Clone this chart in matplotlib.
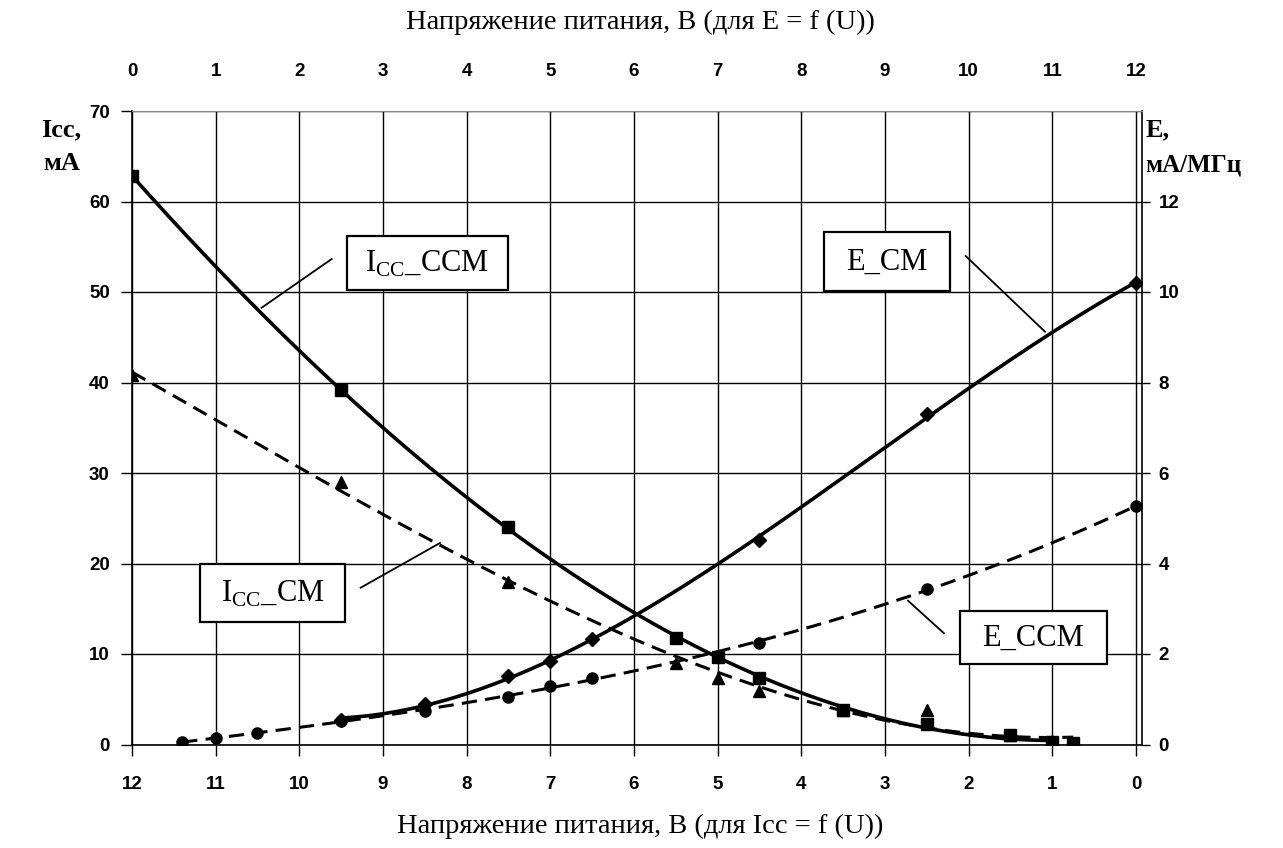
import numpy as np
import matplotlib
matplotlib.use("Agg")
import matplotlib.pyplot as plt
from matplotlib.patches import Rectangle
from matplotlib.lines import Line2D

plt.rcParams['mathtext.fontset'] = 'custom'
plt.rcParams['mathtext.rm'] = 'Liberation Serif'

W, H = 1283, 848

# Icc = f(U), нижняя ось (В)
u_icc = [12, 9.5, 7.5, 5.5, 5, 4.5, 3.5, 2.5, 1.5, 1, 0.75]
icc_ccm = [62.8, 39.2, 24.0, 11.8, 9.7, 7.3, 3.8, 2.3, 1.1, 0.3, 0.15]
icc_cm = [40.8, 29.0, 18.0, 9.0, 7.4, 5.9, 3.8, 3.8, 1.1, 0.4, 0.2]

# E = f(U), верхняя ось (В)
u_e_ccm = [0.6, 1, 1.5, 2.5, 3.5, 4.5, 5, 5.5, 7.5, 9.5, 12]
e_ccm = [0.05, 0.15, 0.25, 0.53, 0.73, 1.06, 1.29, 1.47, 2.24, 3.43, 5.27]
u_e_cm = [2.5, 3.5, 4.5, 5, 5.5, 7.5, 9.5, 12]
e_cm = [0.55, 0.9, 1.51, 1.84, 2.33, 4.51, 7.3, 10.2]

u_ticks = list(range(0, 13))
icc_ticks = list(range(0, 71, 10))
e_ticks = list(range(0, 13, 2))


def px(x, y):
    return x / W, 1 - y / H


def trend(x, y, deg, x0, x1):
    c = np.polyfit(x, y, deg)
    xx = np.linspace(x0, x1, 200)
    return xx, np.polyval(c, xx)


fig = plt.figure(figsize=(W / 100, H / 100), dpi=100)
rect = [132 / W, 1 - 744.5 / H, (1142 - 132) / W, (744.5 - 111) / H]

tick_font = dict(family='Liberation Sans', weight='bold', size=13.5)
serif = 'Liberation Serif'

# основная ось: Icc и нижняя шкала напряжения
ax = fig.add_axes(rect)
ax.set_xlim(12, -0.072)
ax.set_ylim(0, 70)
ax.set_xticks(u_ticks)
ax.set_yticks(icc_ticks)
ax.grid(True, color='black', lw=1.0)
ax.set_axisbelow(True)
ax.tick_params(axis='x', direction='out', length=8, width=1, pad=15)
ax.tick_params(axis='y', direction='out', length=8, width=1, pad=8)
for lab in ax.get_xticklabels() + ax.get_yticklabels():
    lab.set_fontproperties(tick_font)
ax.spines['top'].set_color('#888888')
for s in ['left', 'bottom', 'right']:
    ax.spines[s].set_linewidth(1.2)

dash = (5, 2.7)
x, y = trend(u_icc, icc_ccm, 3, 12, 1.0)
ax.plot(x, y, color='black', lw=2.6)
x, y = trend(u_icc, icc_cm, 3, 12, 0.75)
ax.plot(x, y, color='black', lw=2.2, dashes=dash)
ax.plot(u_icc, icc_ccm, 's', color='black', ms=8, zorder=3)
ax.plot(u_icc, icc_cm, '^', color='black', ms=9, zorder=3)

# вторая ось: E и верхняя шкала напряжения
ax2 = fig.add_axes(rect)
ax2.patch.set_visible(False)
for s in ax2.spines.values():
    s.set_visible(False)
ax2.set_xlim(0, 12.072)
ax2.set_ylim(0, 14)
ax2.xaxis.tick_top()
ax2.yaxis.tick_right()
ax2.set_xticks(u_ticks)
ax2.set_yticks(e_ticks)
ax2.tick_params(axis='x', length=0, pad=22)
ax2.tick_params(axis='y', direction='out', length=6, width=1, pad=6)
for lab in ax2.get_xticklabels() + ax2.get_yticklabels():
    lab.set_fontproperties(tick_font)

x, y = trend(u_e_cm, e_cm, 3, 2.5, 12)
ax2.plot(x, y, color='black', lw=2.6)
x, y = trend(u_e_ccm, e_ccm, 3, 0.6, 12)
ax2.plot(x, y, color='black', lw=2.2, dashes=dash)
ax2.plot(u_e_cm, e_cm, 'D', color='black', ms=7, zorder=3)
ax2.plot(u_e_ccm, e_ccm, 'o', color='black', ms=8, zorder=3)

# подписи осей
fig.text(*px(640, 22), 'Напряжение питания, В (для E = f (U))', family=serif,
         size=20.5, ha='center', va='center')
fig.text(*px(640, 826), 'Напряжение питания, В (для Icc = f (U))', family=serif,
         size=20.5, ha='center', va='center')
fig.text(*px(61, 130), 'Icc,', family=serif, weight='bold', size=19, ha='center', va='center')
fig.text(*px(62, 163), 'мА', family=serif, weight='bold', size=19, ha='center', va='center')
fig.text(*px(1146, 130), 'E,', family=serif, weight='bold', size=19, ha='left', va='center')
fig.text(*px(1145, 165), 'мА/МГц', family=serif, weight='bold', size=18, ha='left', va='center')

# выноски с названиями кривых
boxes = [
    (r'I$_{\rm CC}$_CCM', (346.7, 235.7, 508, 290), ((331.7, 259), (261.7, 307.7))),
    ('E_CM', (824, 232.3, 950, 291), ((965.7, 256), (1045, 331.7))),
    (r'I$_{\rm CC}$_CM', (200, 564, 345, 622), ((360.7, 587.7), (440, 543))),
    ('E_CCM', (960, 610.7, 1106.7, 664.3), ((908, 600.7), (944, 633.3))),
]
for text, (x0, y0, x1, y1), (p0, p1) in boxes:
    fx0, fy1 = px(x0, y1)
    fx1, fy0 = px(x1, y0)
    fig.add_artist(Rectangle((fx0, fy1), fx1 - fx0, fy0 - fy1, transform=fig.transFigure,
                             facecolor='white', edgecolor='black', lw=1.6, zorder=5))
    fig.text(*px((x0 + x1) / 2, (y0 + y1) / 2 + 1), text, family=serif, size=22,
             ha='center', va='center', zorder=6)
    a, b = px(*p0), px(*p1)
    fig.add_artist(Line2D([a[0], b[0]], [a[1], b[1]], transform=fig.transFigure,
                          color='black', lw=1.3, zorder=5))

fig.savefig('out.png', dpi=100)
